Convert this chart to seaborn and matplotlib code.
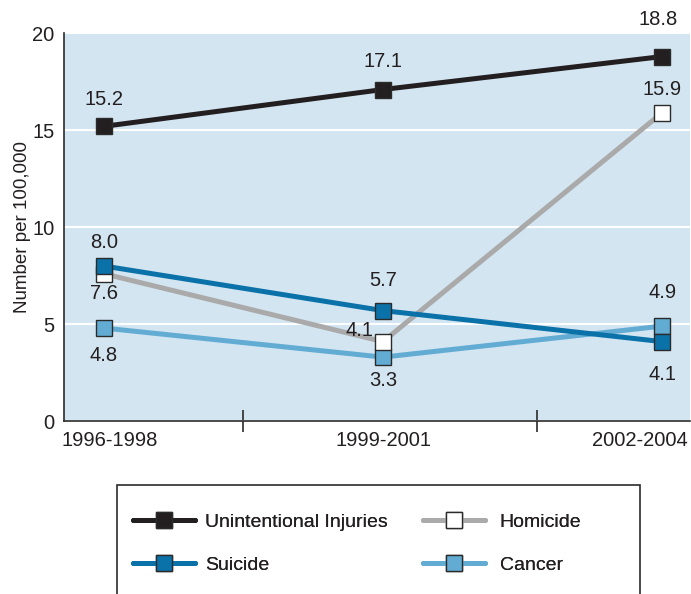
import matplotlib
matplotlib.use("Agg")
import matplotlib.pyplot as plt
from matplotlib.lines import Line2D
from matplotlib.patches import Rectangle
from matplotlib.transforms import ScaledTranslation
import numpy as np
import pandas as pd
import seaborn as sns

periods = ["1996-1998", "1999-2001", "2002-2004"]
unintentional = [15.2, 17.1, 18.8]
homicide = [7.6, 4.1, 15.9]
suicide = [8.0, 5.7, 4.1]
cancer = [4.8, 3.3, 4.9]

sns.set_theme(style="white")
plt.rcParams["font.family"] = ["Liberation Sans", "DejaVu Sans"]

BG = "#d3e5f1"
EDGE = "#2b2b2b"
TEXT = "#231f20"

# name, values, line colour, marker face, label offsets (points) per point
series = [
    ("Cancer", cancer, "#62acd3", "#62acd3", [(0, -20), (0, -17), (0, 24)]),
    ("Homicide", homicide, "#aaaaaa", "white", [(0, -14), (-17, 8), (0, 17)]),
    ("Suicide", suicide, "#0a72a8", "#0a72a8", [(0, 17), (0, 22), (0, -24)]),
    ("Unintentional Injuries", unintentional, "#231f20", "#231f20", [(0, 19), (0, 20), (-3, 27)]),
]

fig = plt.figure(figsize=(6.91, 5.94), dpi=100)
ax = fig.add_axes([0.0926, 0.291, 0.906, 0.653])
ax.set_facecolor(BG)

x = np.arange(len(periods))
for name, vals, color, face, offs in series:
    df = pd.DataFrame({"x": x, "y": vals})
    sns.lineplot(data=df, x="x", y="y", ax=ax, color=color, linewidth=3.6,
                 marker="s", markersize=11.5, markerfacecolor=face,
                 markeredgecolor=EDGE, markeredgewidth=1.0, legend=False)
    for xi, v, (dx, dy) in zip(x, vals, offs):
        ax.annotate(f"{v:.1f}", (xi, v), xytext=(dx, dy), textcoords="offset points",
                    ha="center", va="center", fontsize=14.5, color=TEXT,
                    annotation_clip=False)

ax.set_xlim(-0.143, 2.1)
ax.set_ylim(0, 20)
ax.set_yticks([0, 5, 10, 15, 20])
ax.set_xticks(x)
ax.set_xticklabels(periods)
ax.set_xticks([0.5, 1.55], minor=True)
ax.tick_params(axis="x", which="major", length=0, pad=7, labelsize=14.5, labelcolor=TEXT)
ax.tick_params(axis="x", which="minor", direction="inout", length=16, width=1.2, color=EDGE, bottom=True)
ax.tick_params(axis="y", length=0, pad=7, labelsize=14.5, labelcolor=TEXT)
ax.grid(axis="y", color="white", linewidth=1.5)
ax.set_axisbelow(True)
for s in ["top", "right"]:
    ax.spines[s].set_visible(False)
for s in ["left", "bottom"]:
    ax.spines[s].set_color(EDGE)
    ax.spines[s].set_linewidth(1.2)
ax.set_xlabel("")
ax.set_ylabel("Number per 100,000", fontsize=13.5, color=TEXT, labelpad=1)

# nudge the end labels inward like the original
xl = ax.get_xticklabels()
xl[0].set_transform(xl[0].get_transform() + ScaledTranslation(0.06, 0, fig.dpi_scale_trans))
xl[2].set_transform(xl[2].get_transform() + ScaledTranslation(-0.22, 0, fig.dpi_scale_trans))

# legend box extends past the bottom of the figure
fig.patches.append(Rectangle((117 / 691, -0.05), (640 - 117) / 691, 1 - 485 / 594 + 0.05,
                             transform=fig.transFigure, fill=False, edgecolor=EDGE, linewidth=1.2))

lookup = {s[0]: s for s in series}


def handle(name):
    _, _, color, face, _ = lookup[name]
    return Line2D([], [], color=color, linewidth=3.6, marker="s", markersize=11.5,
                  markerfacecolor=face, markeredgecolor=EDGE, markeredgewidth=1.0)


for cols, x0, pad in [(["Unintentional Injuries", "Suicide"], 133, 0.5), (["Homicide", "Cancer"], 423, 0.75)]:
    leg = fig.legend([handle(c) for c in cols], cols, loc="upper left",
                     bbox_to_anchor=(x0 / 691, 1 - 513 / 594), borderpad=0, borderaxespad=0,
                     frameon=False, fontsize=14, handlelength=3.2, handletextpad=pad,
                     labelspacing=1.3, labelcolor=TEXT)
    fig.add_artist(leg)

fig.savefig("out.png", dpi=100)
